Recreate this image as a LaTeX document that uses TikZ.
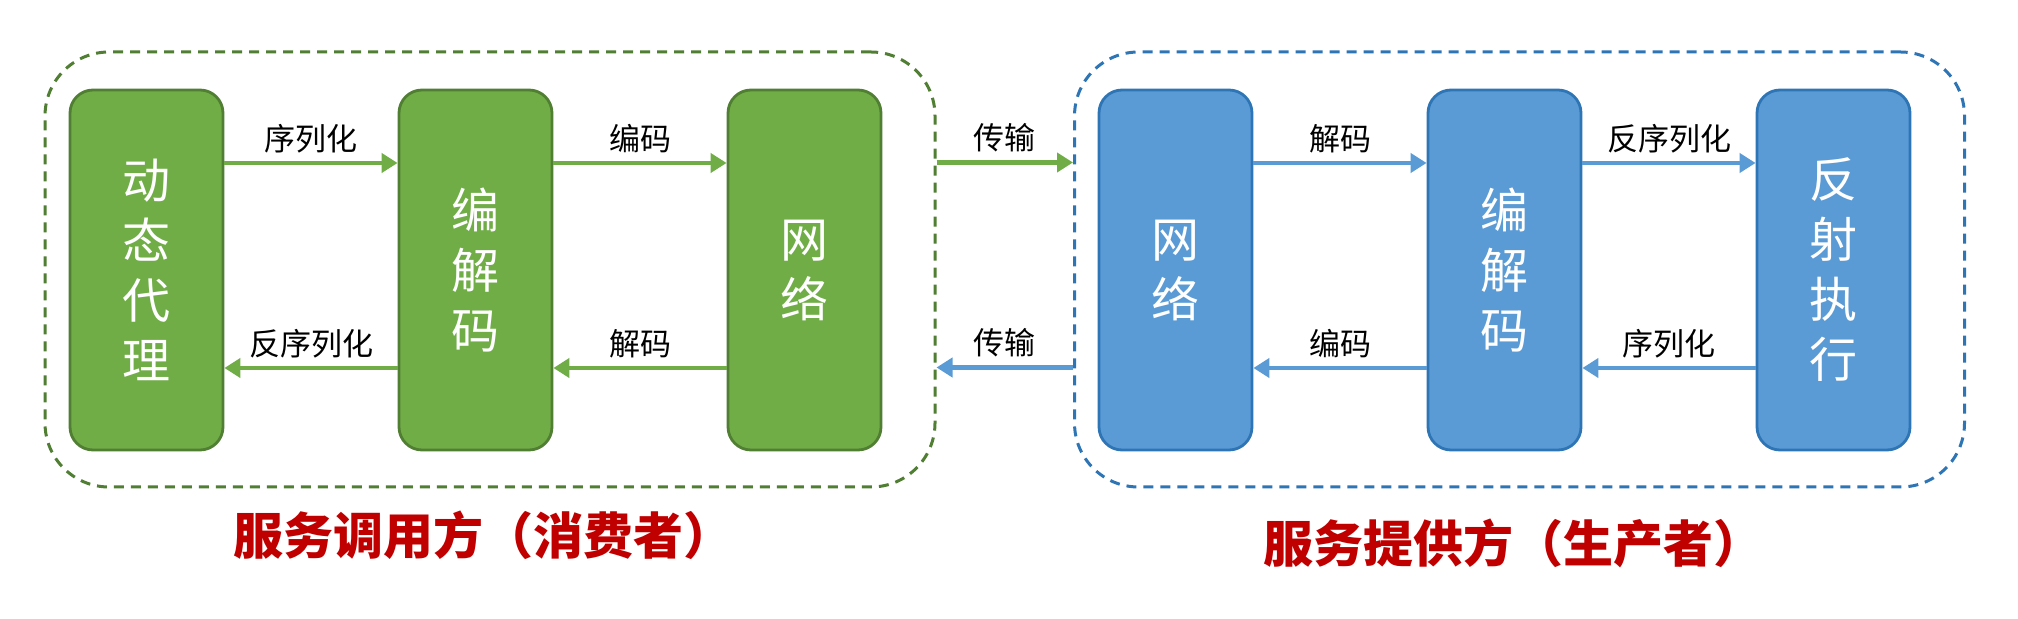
\documentclass[tikz,border=0pt]{standalone}
\usepackage{fontspec}
\setmainfont{Noto Sans CJK SC}
\newfontfamily\cjk{Noto Sans CJK SC}
\usepackage{tikz}
\usetikzlibrary{arrows.meta, positioning, calc}
\definecolor{consgreen}{RGB}{112, 173, 71}
\definecolor{consline}{RGB}{80, 126, 50}
\definecolor{provblue}{RGB}{91, 155, 213}
\definecolor{provline}{RGB}{46, 117, 182}
\definecolor{titlered}{RGB}{192, 0, 0}

\tikzset{
  stagebox/.style={draw, line width=1.4pt, rounded corners=11.5pt, minimum width=76.5pt, minimum height=180pt, inner sep=0pt, align=center, text=white, font=\cjk\fontsize{24}{30}\selectfont},
  greenbox/.style={stagebox, fill=consgreen, draw=consline},
  bluebox/.style={stagebox, fill=provblue, draw=provline},
  groupbox/.style={line width=1.5pt, rounded corners=32pt, dash pattern=on 5pt off 3.5pt, minimum width=445pt, minimum height=217.5pt},
  flow/.style={line width=2.1pt, -{Triangle[length=8pt, width=9.5pt]}},
  flowlabel/.style={above, inner sep=4pt, font=\cjk\fontsize{15.5}{18}\selectfont, text=black},
  sidetitle/.style={font=\cjk\fontsize{25}{30}\selectfont\bfseries, text=titlered}
}

\begin{document}
\begin{tikzpicture}[x=0.5pt, y=-0.5pt]
  \useasboundingbox (0, 0) rectangle (2018, 619);

  % Consumer and provider groups
  \node[groupbox, draw=consline] (consumer) at (490, 269.5) {};
  \node[groupbox, draw=provline] (provider) at (1519.5, 269.5) {};

  % Consumer side
  \node[greenbox] (proxy) at (146.5, 270) {动\\态\\代\\理};
  \node[greenbox] (ccodec) at (475.5, 270) {编\\解\\码};
  \node[greenbox] (cnet) at (804.5, 270) {网\\络};

  % Provider side
  \node[bluebox] (pnet) at (1175.5, 270) {网\\络};
  \node[bluebox] (pcodec) at (1504.5, 270) {编\\解\\码};
  \node[bluebox] (reflect) at (1833.5, 270) {反\\射\\执\\行};

  % Request path
  \draw[flow, consgreen] ([yshift=53.5pt]proxy.east) -- node[flowlabel] {序列化} ([yshift=53.5pt]ccodec.west);
  \draw[flow, consgreen] ([yshift=53.5pt]ccodec.east) -- node[flowlabel] {编码} ([yshift=53.5pt]cnet.west);
  \draw[flow, consgreen] ([yshift=53.5pt]consumer.east) -- node[flowlabel] {传输} ([yshift=53.5pt]provider.west);
  \draw[flow, provblue] ([yshift=53.5pt]pnet.east) -- node[flowlabel] {解码} ([yshift=53.5pt]pcodec.west);
  \draw[flow, provblue] ([yshift=53.5pt]pcodec.east) -- node[flowlabel] {反序列化} ([yshift=53.5pt]reflect.west);

  % Response path
  \draw[flow, provblue] ([yshift=-49pt]reflect.west) -- node[flowlabel] {序列化} ([yshift=-49pt]pcodec.east);
  \draw[flow, provblue] ([yshift=-49pt]pcodec.west) -- node[flowlabel] {编码} ([yshift=-49pt]pnet.east);
  \draw[flow, provblue] ([yshift=-49pt]provider.west) -- node[flowlabel] {传输} ([yshift=-49pt]consumer.east);
  \draw[flow, consgreen] ([yshift=-49pt]cnet.west) -- node[flowlabel] {解码} ([yshift=-49pt]ccodec.east);
  \draw[flow, consgreen] ([yshift=-49pt]ccodec.west) -- node[flowlabel] {反序列化} ([yshift=-49pt]proxy.east);

  % Titles
  \node[sidetitle] (constitle) at (483, 535) {服务调用方（消费者）};
  \node[sidetitle] (provtitle) at (1513, 543) {服务提供方（生产者）};
\end{tikzpicture}
\end{document}
